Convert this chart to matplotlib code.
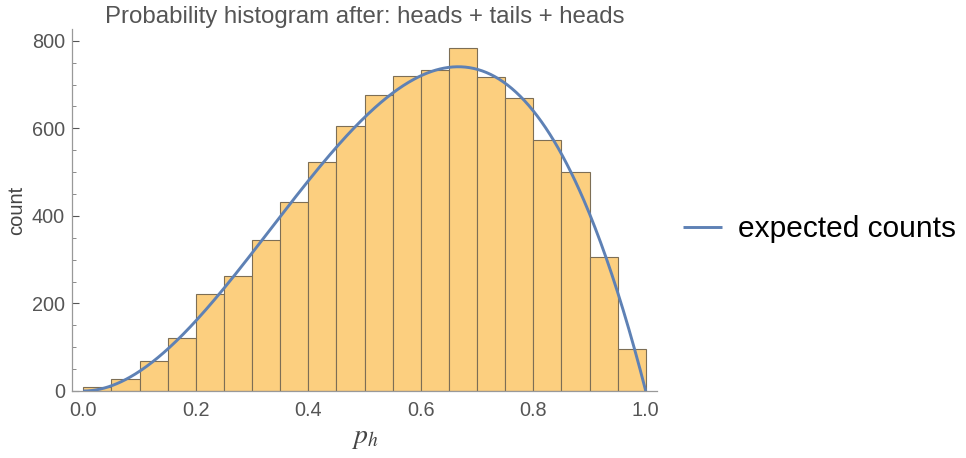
import numpy as np
import matplotlib
matplotlib.use("Agg")
import matplotlib.pyplot as plt

plt.rcParams['font.family'] = ['Liberation Sans', 'DejaVu Sans']
plt.rcParams['mathtext.fontset'] = 'stix'

bin_edges = [0.00, 0.05, 0.10, 0.15, 0.20, 0.25, 0.30, 0.35, 0.40, 0.45,
             0.50, 0.55, 0.60, 0.65, 0.70, 0.75, 0.80, 0.85, 0.90, 0.95, 1.00]
counts = [8, 27, 68, 120, 221, 262, 345, 432, 524, 606,
          677, 720, 734, 784, 718, 670, 573, 501, 306, 97]
n_trials = 100000
bin_width = 0.05

title = "Probability histogram after: heads + tails + heads"
xticks = [0.0, 0.2, 0.4, 0.6, 0.8, 1.0]
xtick_labels = ["0.0", "0.2", "0.4", "0.6", "0.8", "1.0"]
yticks = [0, 200, 400, 600, 800]
legend_label = "expected counts"

W, H = 966, 458
fig = plt.figure(figsize=(W / 100, H / 100), dpi=100)
ax = fig.add_axes([72 / W, 1 - 391 / H, (657 - 72) / W, (391 - 29) / H])

edges = np.array(bin_edges)
ax.bar(edges[:-1], counts, width=np.diff(edges), align='edge',
       color='#FCCF7F', edgecolor='#7d6e55', linewidth=0.8, zorder=2)

p = np.linspace(0, 1, 400)
expected = n_trials * bin_width * p ** 2 * (1 - p)
line, = ax.plot(p, expected, color='#5E81B5', linewidth=2.1, zorder=3,
                solid_capstyle='butt')

ax.set_xlim(-0.02, 1.02)
ax.set_ylim(0, 827)
ax.set_xticks(xticks)
ax.set_xticklabels(xtick_labels)
ax.set_yticks(yticks)
ax.set_yticks(np.arange(0, 826, 50), minor=True)
ax.tick_params(axis='x', length=0, labelsize=14.3, colors='#555555', pad=7)
ax.tick_params(axis='y', which='major', direction='in', length=5,
               labelsize=14.3, colors='#555555', pad=5, width=0.8)
ax.tick_params(axis='y', which='minor', direction='in', length=3,
               colors='#777777', width=0.6)
for lab in ax.get_xticklabels() + ax.get_yticklabels():
    lab.set_color('#555555')

for s in ['top', 'right']:
    ax.spines[s].set_visible(False)
for s in ['left', 'bottom']:
    ax.spines[s].set_color('#999999')
    ax.spines[s].set_linewidth(0.9)

ax.set_title(title, fontsize=17.3, color='#555555', pad=4)
ax.set_ylabel("count", fontsize=14.5, color='#444444', labelpad=4)
ax.set_xlabel(r"$p_h$", fontsize=20, color='#444444', labelpad=4)

fig.legend([line], [legend_label], loc='center left',
           bbox_to_anchor=(683 / W, 1 - 229 / H), frameon=False,
           fontsize=21.5, handlelength=1.3, handletextpad=0.53,
           borderaxespad=0, borderpad=0)

fig.savefig("out.png", dpi=100)
